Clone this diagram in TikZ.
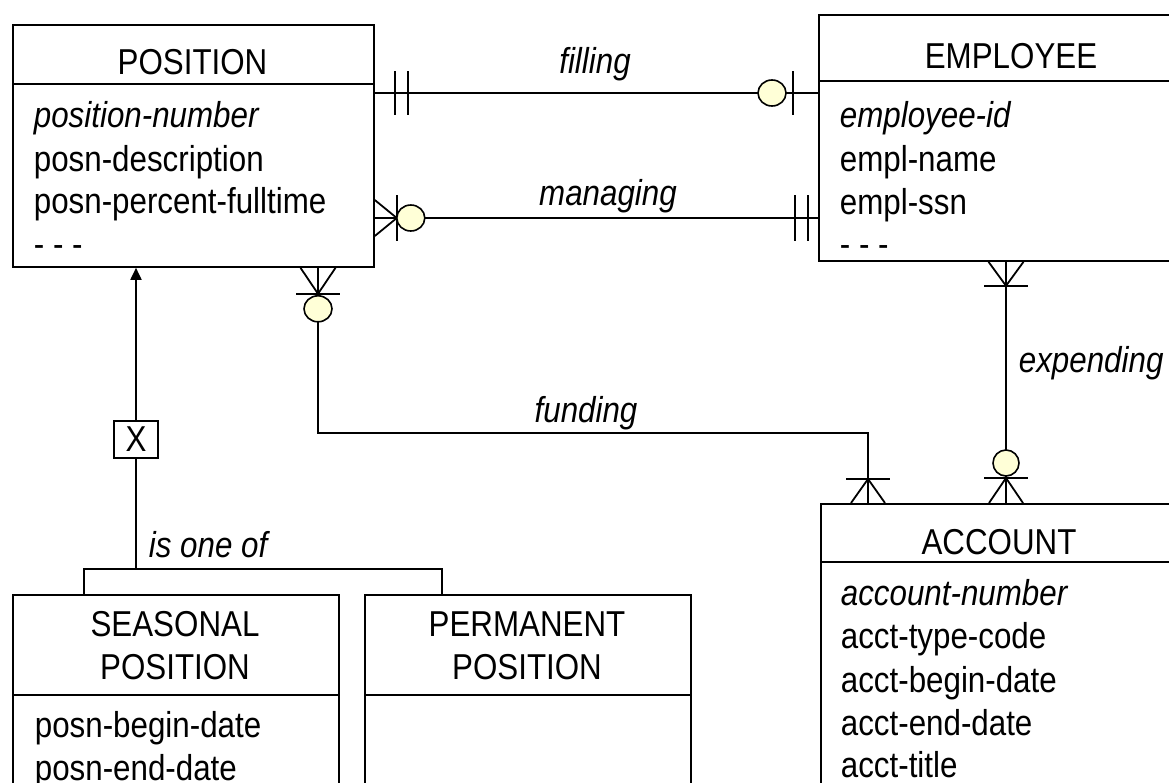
\documentclass[tikz,border=0pt]{standalone}
\usepackage{fontspec}
\setmainfont{Liberation Sans}[FakeStretch=0.87]
\usetikzlibrary{arrows.meta,calc}
\definecolor{markfill}{RGB}{255,255,215}
\begin{document}
\begin{tikzpicture}[x=1pt,y=-1pt,
  line width=1.8pt,
  every node/.style={inner sep=0pt, font=\fontsize{36}{43}\selectfont},
  ebox/.style={draw, anchor=north west},
  etitle/.style={anchor=base},
  attr/.style={anchor=base west},
  keyattr/.style={anchor=base west, font=\fontsize{36}{43}\selectfont\itshape},
  rel/.style={font=\fontsize{36}{43}\selectfont\itshape},
  opt/.style={fill=markfill, line width=1.6pt}]
\useasboundingbox (0,0) rectangle (1169,782);
\clip (0,0) rectangle (1169,782);

% ---------- entity boxes ----------
\node[ebox, minimum width=361pt, minimum height=242pt] (pos) at (12,24) {};
\draw (12,84) -- (373,84);
\node[etitle] (posT) at (192.5,74) {POSITION};
\node[keyattr] (posA1) at (33,127) {position-number};
\node[attr] (posA2) at (33,171) {posn-description};
\node[attr] (posA3) at (33,213) {posn-percent-fulltime};
\node[attr] (posA4) at (33,256) {- - -};

\node[ebox, minimum width=386pt, minimum height=246pt] (emp) at (818,14) {};
\draw (818,81) -- (1204,81);
\node[etitle] (empT) at (1011,68) {EMPLOYEE};
\node[keyattr] (empA1) at (839,127) {employee-id};
\node[attr] (empA2) at (839,171) {empl-name};
\node[attr] (empA3) at (839,214) {empl-ssn};
\node[attr] (empA4) at (839,256) {- - -};

\node[ebox, minimum width=356pt, minimum height=330pt] (acc) at (820,503) {};
\draw (820,562) -- (1176,562);
\node[etitle] (accT) at (999,554) {ACCOUNT};
\node[keyattr] (accA1) at (840,605) {account-number};
\node[attr] (accA2) at (840,648) {acct-type-code};
\node[attr] (accA3) at (840,692) {acct-begin-date};
\node[attr] (accA4) at (840,735) {acct-end-date};
\node[attr] (accA5) at (840,777) {acct-title};

\node[ebox, minimum width=326pt, minimum height=240pt] (sea) at (12,594) {};
\draw (12,695) -- (338,695);
\node[etitle] (seaT1) at (175,636) {SEASONAL};
\node[etitle] (seaT2) at (175,679) {POSITION};
\node[attr] (seaA1) at (34,737) {posn-begin-date};
\node[attr] (seaA2) at (34,780) {posn-end-date};

\node[ebox, minimum width=326pt, minimum height=240pt] (perm) at (364,594) {};
\draw (364,695) -- (690,695);
\node[etitle] (permT1) at (527,636) {PERMANENT};
\node[etitle] (permT2) at (527,679) {POSITION};

% ---------- filling: POSITION (one) -- EMPLOYEE (zero or one) ----------
\coordinate (fP) at ($(pos.north east)+(0,69)$);
\coordinate (fE) at ($(emp.north west)+(0,79)$);
\draw (fP) -- (fE);
\draw ($(fP)+(20,-22)$) -- ++(0,44);
\draw ($(fP)+(33,-22)$) -- ++(0,44);
\draw ($(fE)+(-25,-22)$) -- ++(0,44);
\draw[opt] ($(fE)+(-46,0)$) ellipse [x radius=14pt, y radius=13pt];
\node[rel, anchor=base] (fL) at (595,73) {filling};

% ---------- managing: POSITION (zero or many) -- EMPLOYEE (one) ----------
\coordinate (mP) at ($(pos.north east)+(0,194)$);
\coordinate (mE) at ($(emp.north west)+(0,204)$);
\draw (mP) -- (mE);
\draw ($(mP)+(0,-18)$) -- ($(mP)+(22,0)$) -- ($(mP)+(0,18)$);
\draw ($(mP)+(22,-23)$) -- ++(0,46);
\draw[opt] ($(mP)+(36,0)$) ellipse [x radius=14pt, y radius=13pt];
\draw ($(mE)+(-23,-23)$) -- ++(0,46);
\draw ($(mE)+(-10,-23)$) -- ++(0,46);
\node[rel, anchor=base] (mL) at (608,205) {managing};

% ---------- funding: POSITION (zero or many) -- ACCOUNT (one or many) ----------
\coordinate (fuP) at ($(pos.south west)+(306,0)$);
\coordinate (fuA) at ($(acc.north west)+(48,0)$);
\draw (fuP) |- ($(fuA)+(0,-70)$) -- (fuA);
\draw ($(fuP)+(-17.5,0)$) -- ($(fuP)+(0,26)$) -- ($(fuP)+(17.5,0)$);
\draw ($(fuP)+(-22,26)$) -- ++(44,0);
\draw[opt] ($(fuP)+(0,41)$) ellipse [x radius=14pt, y radius=13pt];
\draw ($(fuA)+(-17,0)$) -- ($(fuA)+(0,-24)$) -- ($(fuA)+(17,0)$);
\draw ($(fuA)+(-22,-24)$) -- ++(44,0);
\node[rel, anchor=base] (fuL) at (586,422) {funding};

% ---------- expending: EMPLOYEE (one or many) -- ACCOUNT (zero or many) ----------
\coordinate (eE) at ($(emp.south west)+(188,0)$);
\coordinate (eA) at ($(acc.north west)+(186,0)$);
\draw (eE) -- (eA);
\draw ($(eE)+(-17.5,0)$) -- ($(eE)+(0,24)$) -- ($(eE)+(17.5,0)$);
\draw ($(eE)+(-22,24)$) -- ++(44,0);
\draw ($(eA)+(-17,0)$) -- ($(eA)+(0,-25)$) -- ($(eA)+(17,0)$);
\draw ($(eA)+(-22,-25)$) -- ++(44,0);
\draw[opt] ($(eA)+(0,-40)$) ellipse [x radius=13pt, y radius=13pt];
\node[rel, anchor=base west] (eL) at (1018,372) {expending};

% ---------- subtypes: exclusive "is one of" ----------
\coordinate (isP) at ($(pos.south west)+(124,0)$);
\node[draw, minimum width=44pt, minimum height=37pt] (xbox) at (136,439.5) {X};
\draw[-{Triangle[length=12pt,width=11pt]}] (xbox.north) -- (isP);
\coordinate (isJ) at ($(xbox.south)+(0,111)$);
\draw (xbox.south) -- (isJ);
\draw ($(sea.north west)+(72,0)$) |- ($(perm.north west)+(78,-25)$) -- ($(perm.north west)+(78,0)$);
\node[rel, anchor=base west] (isL) at (148,557) {is one of};
\end{tikzpicture}
\end{document}
